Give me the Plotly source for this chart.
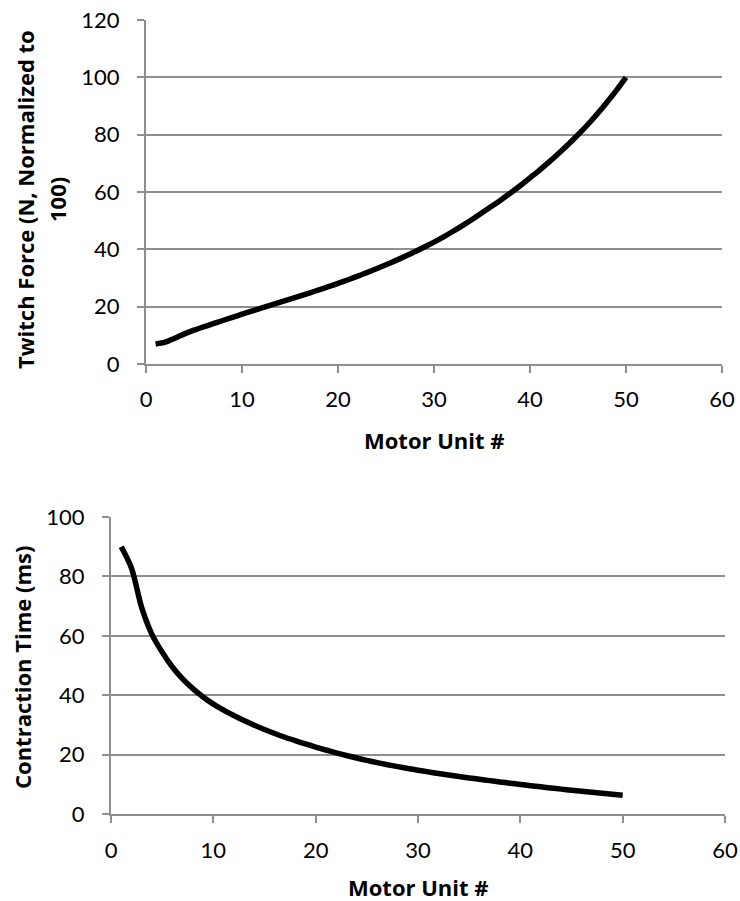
import plotly.graph_objects as go

motor_unit = list(range(1, 51))

twitch_force = [7.0, 7.6, 9.0, 10.5, 11.8, 12.95, 14.07, 15.17, 16.27, 17.37,
                18.42, 19.47, 20.52, 21.57, 22.62, 23.67, 24.74, 25.84, 26.96, 28.11,
                29.31, 30.56, 31.86, 33.21, 34.61, 36.06, 37.56, 39.14, 40.79, 42.51,
                44.36, 46.31, 48.36, 50.51, 52.76, 55.01, 57.31, 59.71, 62.26, 64.96,
                67.66, 70.51, 73.51, 76.66, 79.96, 83.46, 87.21, 91.21, 95.46, 100.0]

contraction_time = [90.0, 82.8, 69.5, 60.5, 54.5, 49.5, 45.5, 42.2, 39.4, 37.0,
                    35.0, 33.15, 31.45, 29.9, 28.45, 27.1, 25.85, 24.7, 23.6, 22.55,
                    21.55, 20.6, 19.7, 18.85, 18.05, 17.3, 16.6, 15.95, 15.33, 14.75,
                    14.19, 13.65, 13.13, 12.63, 12.15, 11.69, 11.24, 10.8, 10.37, 9.95,
                    9.54, 9.14, 8.75, 8.37, 8.0, 7.64, 7.29, 6.95, 6.62, 6.3]

x_ticks = [0, 10, 20, 30, 40, 50, 60]
top_y_ticks = [0, 20, 40, 60, 80, 100, 120]
bottom_y_ticks = [0, 20, 40, 60, 80, 100]

W, H = 740, 901
TICK_FONT = "Lato"
TITLE_FONT = "Open Sans"
GRID = "#8f8f8f"
LW = 2

def px_x(p):
    return p / W

def px_y(p):
    return 1 - p / H

fig = go.Figure()
fig.add_trace(go.Scatter(x=motor_unit, y=twitch_force, mode="lines",
                         line=dict(color="black", width=5.5, shape="spline", smoothing=0.9),
                         xaxis="x", yaxis="y", showlegend=False, hoverinfo="skip"))
fig.add_trace(go.Scatter(x=motor_unit, y=contraction_time, mode="lines",
                         line=dict(color="black", width=5.5, shape="spline", smoothing=0.9),
                         xaxis="x2", yaxis="y2", showlegend=False, hoverinfo="skip"))

def xax(domain, anchor, standoff):
    return dict(domain=domain, anchor=anchor, range=[0, 60], tickvals=x_ticks,
                showgrid=False, zeroline=False, showline=True, linecolor=GRID, linewidth=LW,
                ticks="outside", ticklen=7, tickcolor=GRID, tickwidth=LW,
                ticklabelstandoff=standoff, automargin=False, ticklabeloverflow="allow",
                tickfont=dict(family=TICK_FONT, size=22, color="black"), fixedrange=True)

def yax(domain, anchor, rng, vals):
    return dict(domain=domain, anchor=anchor, range=rng, tickvals=vals,
                showgrid=True, gridcolor=GRID, gridwidth=LW, zeroline=False,
                showline=True, linecolor=GRID, linewidth=LW,
                ticks="outside", ticklen=7, tickcolor=GRID, tickwidth=LW,
                ticklabelstandoff=13, automargin=False, ticklabeloverflow="allow",
                tickfont=dict(family=TICK_FONT, size=22, color="black"), fixedrange=True)

fig.update_layout(
    width=W, height=H,
    margin=dict(l=0, r=0, t=0, b=0),
    paper_bgcolor="white", plot_bgcolor="white",
    hovermode=False,
    xaxis=xax([px_x(146), px_x(722)], "y", 8),
    yaxis=yax([px_y(364), px_y(20)], "x", [0, 120], top_y_ticks),
    xaxis2=xax([px_x(111), px_x(725)], "y2", 9),
    yaxis2=yax([px_y(814), px_y(517)], "x2", [0, 100], bottom_y_ticks),
)

title_font = dict(family=TITLE_FONT, size=22, color="black")

def ann(text, xpx, ypx, angle=0):
    fig.add_annotation(text="<b>%s</b>" % text, x=px_x(xpx), y=px_y(ypx),
                       xref="paper", yref="paper", showarrow=False,
                       textangle=angle, font=title_font,
                       xanchor="center", yanchor="middle")

ann("Twitch Force (N, Normalized to", 25, 200, -90)
ann("100)", 57, 200, -90)
ann("Motor Unit #", 434, 440)
ann("Contraction Time (ms)", 22, 667, -90)
ann("Motor Unit #", 418, 887)

fig.write_html("out.html",
               config={"displayModeBar": False, "staticPlot": True},
               post_script="document.body.style.margin='0';document.body.style.overflow='hidden';")
